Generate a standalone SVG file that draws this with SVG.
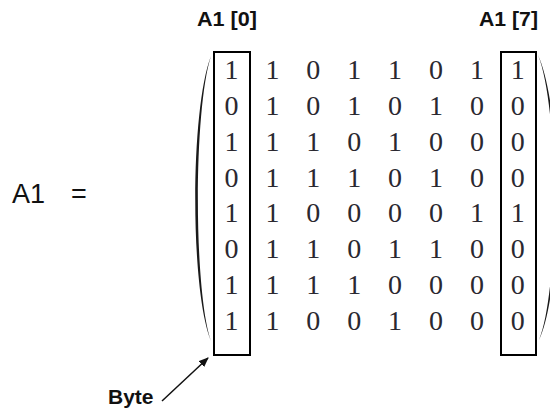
<svg xmlns="http://www.w3.org/2000/svg" width="550" height="411" viewBox="0 0 550 411">
<defs>
<style>
.d{font-family:"Liberation Serif","DejaVu Serif",serif;font-size:28px;fill:#2a2830;text-anchor:middle}
.b{font-family:"Liberation Sans",Arial,sans-serif;font-weight:bold;font-size:21px;fill:#111}
.s{font-family:"Liberation Sans",Arial,sans-serif;font-size:27px;fill:#111}
.box{fill:none;stroke:#000;stroke-width:2}
.par{fill:#1a1a1a}
</style>
<marker id="ah" markerWidth="10" markerHeight="8" refX="9" refY="4" orient="auto" markerUnits="userSpaceOnUse">
<path d="M0,0 L10,4 L0,8 Z" fill="#111"/>
</marker>
</defs>
<rect width="550" height="411" fill="#fff"/>
<g id="label-A1">
<text class="s" x="12" y="203">A1<tspan x="71">=</tspan></text>
</g>
<g id="label-A1-0"><text class="b" x="197" y="26" textLength="60" lengthAdjust="spacingAndGlyphs">A1 [0]</text></g>
<g id="label-A1-7"><text class="b" x="479" y="26" textLength="59" lengthAdjust="spacingAndGlyphs">A1 [7]</text></g>
<g id="parens">
<path class="par" d="M211,56 C190,110 190,290 211,341 C193.5,290 193.5,110 211,56 Z"/>
<path class="par" d="M538,55 C563,109 563,289 539,340 C559.5,289 559.5,109 538,55 Z"/>
</g>
<g id="matrix">
<g transform="translate(0,79)">
<text class="d" y="0"><tspan x="231.5">1</tspan><tspan x="272.4">1</tspan><tspan x="313.3">0</tspan><tspan x="354.2">1</tspan><tspan x="395.1">1</tspan><tspan x="436">0</tspan><tspan x="476.9">1</tspan><tspan x="517.8">1</tspan></text>
<text class="d" y="35.86"><tspan x="231.5">0</tspan><tspan x="272.4">1</tspan><tspan x="313.3">0</tspan><tspan x="354.2">1</tspan><tspan x="395.1">0</tspan><tspan x="436">1</tspan><tspan x="476.9">0</tspan><tspan x="517.8">0</tspan></text>
<text class="d" y="71.72"><tspan x="231.5">1</tspan><tspan x="272.4">1</tspan><tspan x="313.3">1</tspan><tspan x="354.2">0</tspan><tspan x="395.1">1</tspan><tspan x="436">0</tspan><tspan x="476.9">0</tspan><tspan x="517.8">0</tspan></text>
<text class="d" y="107.58"><tspan x="231.5">0</tspan><tspan x="272.4">1</tspan><tspan x="313.3">1</tspan><tspan x="354.2">1</tspan><tspan x="395.1">0</tspan><tspan x="436">1</tspan><tspan x="476.9">0</tspan><tspan x="517.8">0</tspan></text>
<text class="d" y="143.44"><tspan x="231.5">1</tspan><tspan x="272.4">1</tspan><tspan x="313.3">0</tspan><tspan x="354.2">0</tspan><tspan x="395.1">0</tspan><tspan x="436">0</tspan><tspan x="476.9">1</tspan><tspan x="517.8">1</tspan></text>
<text class="d" y="179.3"><tspan x="231.5">0</tspan><tspan x="272.4">1</tspan><tspan x="313.3">1</tspan><tspan x="354.2">0</tspan><tspan x="395.1">1</tspan><tspan x="436">1</tspan><tspan x="476.9">0</tspan><tspan x="517.8">0</tspan></text>
<text class="d" y="215.16"><tspan x="231.5">1</tspan><tspan x="272.4">1</tspan><tspan x="313.3">1</tspan><tspan x="354.2">1</tspan><tspan x="395.1">0</tspan><tspan x="436">0</tspan><tspan x="476.9">0</tspan><tspan x="517.8">0</tspan></text>
<text class="d" y="251"><tspan x="231.5">1</tspan><tspan x="272.4">1</tspan><tspan x="313.3">0</tspan><tspan x="354.2">0</tspan><tspan x="395.1">1</tspan><tspan x="436">0</tspan><tspan x="476.9">0</tspan><tspan x="517.8">0</tspan></text>
</g>
</g>
<g id="byte-box-0"><rect class="box" x="214" y="52" width="36" height="303"/></g>
<g id="byte-box-7"><rect class="box" x="501" y="52" width="35" height="303"/></g>
<g id="label-byte"><text class="b" x="108" y="404">Byte</text></g>
<g id="connectors">
<line x1="162" y1="401" x2="208" y2="358" stroke="#111" stroke-width="1.5" marker-end="url(#ah)"/>
</g>
</svg>
